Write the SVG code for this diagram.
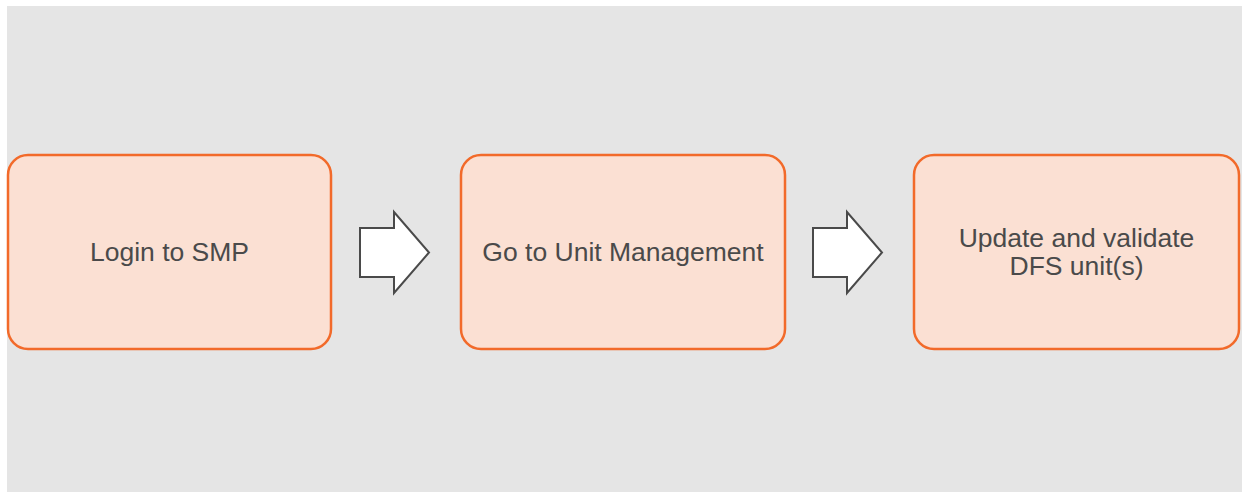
<svg xmlns="http://www.w3.org/2000/svg" width="1242" height="492" viewBox="0 0 1242 492">
<style>
.node{fill:#fbe0d3;stroke:#f26a2a;stroke-width:2.5}
.lbl{font-family:"Liberation Sans",Arial,sans-serif;font-size:26.5px;fill:#4a4a4a;text-anchor:middle}
.arr{fill:#ffffff;stroke:#4a4a4a;stroke-width:2;stroke-linejoin:miter}
</style>
<rect x="7" y="6" width="1235" height="486" fill="#e5e5e5"/>
<g id="n1"><rect class="node" x="8" y="155" width="323" height="194" rx="20"/><text class="lbl" x="169.5" y="261">Login to SMP</text></g>
<g id="n2"><rect class="node" x="461" y="155" width="324" height="194" rx="20"/><text class="lbl" x="623" y="261">Go to Unit Management</text></g>
<g id="n3"><rect class="node" x="914" y="155" width="325" height="194" rx="20"/><text class="lbl" x="1076.5" y="247">Update and validate</text><text class="lbl" x="1076.5" y="275">DFS unit(s)</text></g>
<g id="connectors">
<path class="arr" d="M360,228 H394 V212 L429,252.5 L394,293 V277 H360 Z"/>
<path class="arr" d="M813,228 H847 V212 L882,252.5 L847,293 V277 H813 Z"/>
</g>
</svg>
